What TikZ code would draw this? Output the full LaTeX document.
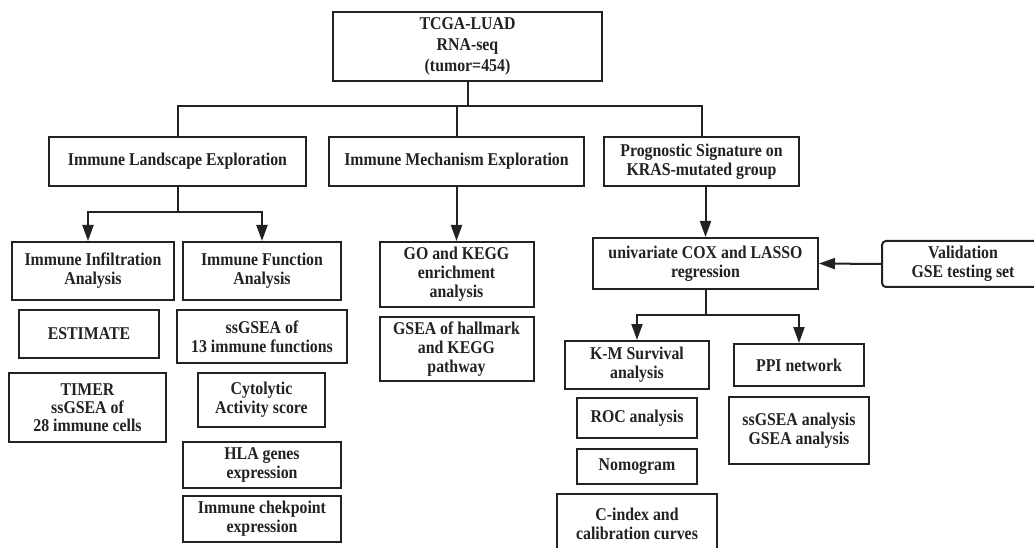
\documentclass[tikz,border=0pt]{standalone}
\usepackage{fontspec}
\setmainfont{Liberation Serif}[FakeStretch=0.88]
\usetikzlibrary{arrows.meta,calc}
\definecolor{ink}{HTML}{222222}
\begin{document}
\begin{tikzpicture}[x=1pt,y=-1pt,
  box/.style={draw=ink, line width=2pt, rectangle, inner sep=0pt, align=center,
    text=ink, font=\fontsize{18}{19}\selectfont\bfseries},
  rbox/.style={box, rounded corners=4pt},
  conn/.style={draw=ink, line width=2pt},
  arr/.style={conn, -{Triangle[length=16pt 0 0, width=11pt 0 0]}}]
\useasboundingbox (0,0) rectangle (1034,548);
\clip (0,0) rectangle (1034,548);
\fill[white] (0,0) rectangle (1034,548);

\node[box, minimum width=269, minimum height=69, font=\fontsize{18}{21}\selectfont\bfseries] (top) at (467.5,46.5) {TCGA-LUAD\\RNA-seq\\(tumor=454)};

\node[box, minimum width=257, minimum height=49] (land) at (177.5,161.5) {Immune Landscape Exploration};
\node[box, minimum width=255, minimum height=49] (mech) at (456.5,161.5) {Immune Mechanism Exploration};
\node[box, minimum width=195, minimum height=49] (prog) at (701.5,161.5) {Prognostic Signature on\\KRAS-mutated group};

\node[box, minimum width=162, minimum height=58] (infil) at (93,271) {Immune Infiltration\\Analysis};
\node[box, minimum width=158, minimum height=58] (func) at (262,271) {Immune Function\\Analysis};
\node[box, minimum width=140, minimum height=48] (est) at (89,334) {ESTIMATE};
\node[box, minimum width=157, minimum height=69, font=\fontsize{18}{18}\selectfont\bfseries] (timer) at (87.5,407.5) {TIMER\\ssGSEA of\\28 immune cells};
\node[box, minimum width=170, minimum height=53] (ss13) at (262,336.5) {ssGSEA of\\13 immune functions};
\node[box, minimum width=127, minimum height=54] (cyto) at (261.5,400) {Cytolytic\\Activity score};
\node[box, minimum width=158, minimum height=46] (hla) at (262,465) {HLA genes\\expression};
\node[box, minimum width=158, minimum height=46] (chek) at (262,519) {Immune chekpoint\\expression};

\node[box, minimum width=154, minimum height=65] (go) at (456.5,274.5) {GO and KEGG\\enrichment\\analysis};
\node[box, minimum width=154, minimum height=64] (gsea) at (456.5,349) {GSEA of hallmark\\and KEGG\\pathway};

\node[box, minimum width=225, minimum height=51] (uni) at (705.5,263.5) {univariate COX and LASSO\\regression};
\node[rbox, minimum width=162, minimum height=46] (val) at (963,264) {Validation\\GSE testing set};
\node[box, minimum width=144, minimum height=48] (km) at (637,365) {K-M Survival\\analysis};
\node[box, minimum width=130, minimum height=42] (ppi) at (799,365) {PPI network};
\node[box, minimum width=120, minimum height=40] (roc) at (637,418) {ROC analysis};
\node[box, minimum width=120, minimum height=35] (nomo) at (637,466.5) {Nomogram};
\node[box, minimum width=160, minimum height=59] (cidx) at (637,523.5) {C-index and\\calibration curves};
\node[box, minimum width=140, minimum height=67] (ssa) at (799,430.5) {ssGSEA analysis\\GSEA analysis};

% top bus
\coordinate (bus) at (0,106);
\draw[conn] (top.south) -- (top.south |- bus);
\draw[conn] (land.north) -- (land.north |- bus) -- (prog.north |- bus) -- (prog.north);
\draw[conn] (mech.north) -- (mech.north |- bus);

% landscape branch
\coordinate (j1) at (177.5,212);
\draw[conn] (land.south) -- (j1);
\draw[arr] (j1) -| ([xshift=-5pt]infil.north);
\draw[arr] (j1) -| (func.north);

% mechanism
\draw[arr] (mech.south) -- (go.north);

% prognostic
\draw[arr] (prog.south -| uni.north) -- (uni.north);
\draw[arr] (val.west) -- (uni.east);

\coordinate (j2) at (705.5,315);
\draw[conn] (uni.south) -- (j2);
\draw[arr] (j2) -| (km.north);
\draw[arr] (j2) -| (ppi.north);
\end{tikzpicture}
\end{document}
